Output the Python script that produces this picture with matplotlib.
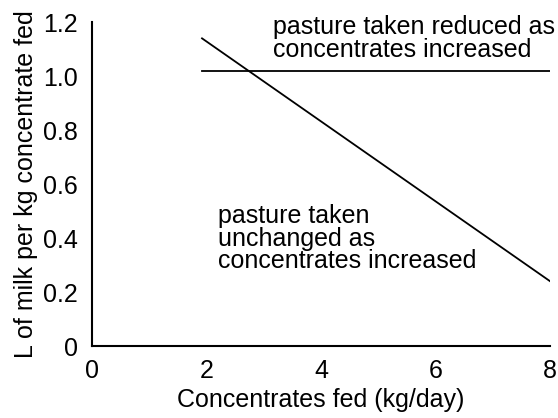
import matplotlib
matplotlib.use('Agg')
import matplotlib.pyplot as plt

plt.rcParams['font.family'] = ['Liberation Sans', 'DejaVu Sans']

# data
reduced_x = [1.92, 8.0]
reduced_y = [1.02, 1.02]
unchanged_x = [1.92, 8.0]
unchanged_y = [1.14, 0.24]
x_ticks = [0, 2, 4, 6, 8]
y_ticks = [0, 0.2, 0.4, 0.6, 0.8, 1.0, 1.2]
y_labels = ['0', '0.2', '0.4', '0.6', '0.8', '1.0', '1.2']

fig = plt.figure(figsize=(5.58, 4.18), dpi=100)
ax = fig.add_axes([0.165, 0.172, 0.821, 0.775])

ax.plot(reduced_x, reduced_y, color='black', lw=1.3)
ax.plot(unchanged_x, unchanged_y, color='black', lw=1.3)

ax.text(3.16, 1.226, 'pasture taken reduced as\nconcentrates increased',
        fontsize=18, va='top', ha='left', linespacing=0.93)
ax.text(2.2, 0.526, 'pasture taken\nunchanged as\nconcentrates increased',
        fontsize=18, va='top', ha='left', linespacing=0.93)

ax.set_xlim(0, 8)
ax.set_ylim(0, 1.2)
ax.set_xticks(x_ticks)
ax.set_yticks(y_ticks)
ax.set_yticklabels(y_labels)
ax.tick_params(length=0, labelsize=18)
ax.tick_params(axis='x', pad=9)
ax.tick_params(axis='y', pad=10)
ax.set_xlabel('Concentrates fed (kg/day)', fontsize=18, labelpad=4)
ax.set_ylabel('L of milk per kg concentrate fed', fontsize=18, labelpad=4)

for s in ['top', 'right']:
    ax.spines[s].set_visible(False)
for s in ['left', 'bottom']:
    ax.spines[s].set_linewidth(1.5)

plt.savefig('out.png', dpi=100)
plt.close()
